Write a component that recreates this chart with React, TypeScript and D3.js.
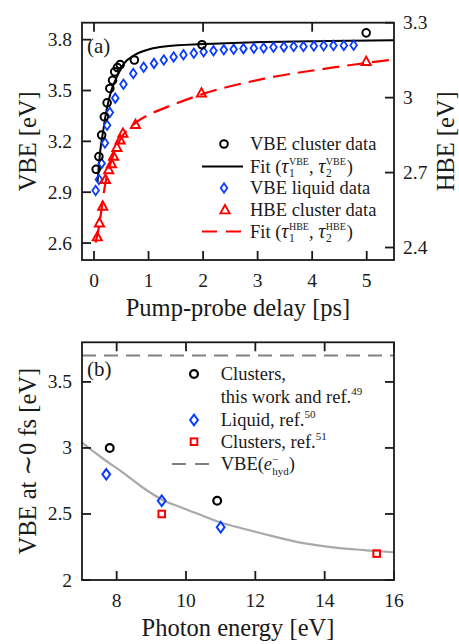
import React from 'react';
import * as d3 from 'd3';

// ---------- Panel (a) data ----------
const clusterT = [0.04, 0.09, 0.14, 0.19, 0.24, 0.29, 0.34, 0.38, 0.43, 0.48, 0.74, 1.98, 4.99];
const clusterVBE = [3.035, 3.11, 3.237, 3.345, 3.427, 3.512, 3.56, 3.61, 3.635, 3.653, 3.68, 3.77, 3.84];

const liquidT = [0.03, 0.09, 0.14, 0.2, 0.24, 0.29, 0.39, 0.54, 0.72, 0.91, 1.1, 1.28, 1.46, 1.64, 1.83, 2.01, 2.19, 2.38, 2.56, 2.74, 2.93, 3.11, 3.29, 3.48, 3.66, 3.84, 4.03, 4.21, 4.39, 4.58, 4.76];
const liquidVBE = [2.91, 2.975, 3.07, 3.19, 3.295, 3.37, 3.455, 3.537, 3.6, 3.637, 3.66, 3.68, 3.698, 3.711, 3.72, 3.728, 3.734, 3.74, 3.743, 3.747, 3.749, 3.751, 3.755, 3.757, 3.759, 3.759, 3.762, 3.764, 3.765, 3.766, 3.767];

const hbeT = [0.06, 0.1, 0.16, 0.21, 0.27, 0.32, 0.36, 0.42, 0.48, 0.53, 0.76, 1.97, 4.99];
const hbeVal = [2.442, 2.498, 2.565, 2.672, 2.711, 2.735, 2.765, 2.8, 2.83, 2.857, 2.892, 3.018, 3.144];

const fitVbeT = [0.065, 0.11, 0.17, 0.23, 0.32, 0.42, 0.54, 0.72, 1.03, 1.33, 2.0, 3.1, 4.3, 5.5];
const fitVbeV = [2.96, 3.13, 3.266, 3.384, 3.502, 3.58, 3.655, 3.705, 3.745, 3.761, 3.774, 3.786, 3.792, 3.797];

const fitHbeT = [0.03, 0.08, 0.13, 0.18, 0.23, 0.3, 0.4, 0.5, 0.66, 0.8, 1.09, 1.43, 2.0, 3.1, 4.3, 5.5];
const fitHbeV = [2.42, 2.47, 2.54, 2.62, 2.68, 2.735, 2.795, 2.84, 2.88, 2.905, 2.94, 2.97, 3.015, 3.075, 3.118, 3.153];

const xTicksA = [0, 1, 2, 3, 4, 5];
const xTopTicksA = [0, 2, 4];
const yLeftTicksA = [2.6, 2.9, 3.2, 3.5, 3.8];
const yRightTicksA = [2.4, 2.7, 3, 3.3];

// ---------- Panel (b) data ----------
const clusterE = [7.8, 10.9];
const clusterV0 = [3.0, 2.6];
const liquidE = [7.7, 9.3, 11.0];
const liquidV0 = [2.8, 2.6, 2.4];
const ref51E = [9.3, 15.5];
const ref51V = [2.5, 2.2];
const curveE = [7.0, 7.6, 8.2, 8.7, 9.3, 9.9, 10.5, 11.0, 11.6, 12.3, 13.3, 14.3, 15.2, 16.0];
const curveV = [3.04, 2.92, 2.81, 2.71, 2.61, 2.545, 2.485, 2.435, 2.392, 2.345, 2.283, 2.245, 2.225, 2.21];
const hydVBE = 3.7;

const xTicksB = [8, 10, 12, 14, 16];
const yTicksB = [2, 2.5, 3, 3.5];

const FONT = "'Liberation Serif', 'DejaVu Serif', serif";
const INK = '#1a1a1a';
const BLUE = '#0a3cff';
const RED = '#ff0000';

// layout
const A = { left: 82, right: 394, top: 22.7, bottom: 260 };
const B = { left: 82, right: 394, top: 342.3, bottom: 580 };

const xA = d3.scaleLinear().domain([-0.22, 5.5]).range([A.left, A.right]);
const yL = d3.scaleLinear().domain([2.5, 3.9]).range([A.bottom, A.top]);
const yR = d3.scaleLinear().domain([2.35, 3.3]).range([A.bottom, A.top]);
const xB = d3.scaleLinear().domain([7, 16]).range([B.left, B.right]);
const yB = d3.scaleLinear().domain([2, 3.8]).range([B.bottom, B.top]);

const TICK = 9;

const Circle = ({ x, y, r = 3.8, sw = 2 }: any) => (
  <circle cx={x} cy={y} r={r} fill="none" stroke="#000" strokeWidth={sw} />
);
const Diamond = ({ x, y, w = 3.3, h = 4.7, sw = 1.8 }: any) => (
  <path d={`M${x},${y - h}L${x + w},${y}L${x},${y + h}L${x - w},${y}Z`} fill="none" stroke={BLUE} strokeWidth={sw} />
);
const Tri = ({ x, y }: any) => (
  <path d={`M${x},${y - 5}L${x + 4.6},${y + 3.4}L${x - 4.6},${y + 3.4}Z`} fill="none" stroke={RED} strokeWidth={1.9} strokeLinejoin="miter" />
);
const Square = ({ x, y, s = 3.3 }: any) => (
  <rect x={x - s} y={y - s} width={2 * s} height={2 * s} fill="none" stroke={RED} strokeWidth={2} />
);

const FitLabel = ({ x, y, tag }: any) => (
  <text x={x} y={y}>
    Fit (<tspan fontStyle="italic" fontSize={20}>τ</tspan>
    <tspan fontSize={11.5} dx={0.5} dy={4}>1</tspan>
    <tspan fontSize={10} dx={-5.8} dy={-12}>{tag}</tspan>
    <tspan dy={8}>, </tspan>
    <tspan fontStyle="italic" fontSize={20}>τ</tspan>
    <tspan fontSize={11.5} dx={0.5} dy={4}>2</tspan>
    <tspan fontSize={10} dx={-5.8} dy={-12}>{tag}</tspan>
    <tspan dx={1} dy={8}>)</tspan>
  </text>
);

export default function App() {
  const lineA = (xs: number[], ys: number[], ys2: any) =>
    d3.line<number>().x((_, i) => xA(xs[i])).y((_, i) => ys2(ys[i])).curve(d3.curveMonotoneX)(xs as any) || '';
  const vbeFit = lineA(fitVbeT, fitVbeV, yL);
  const hbeFit = lineA(fitHbeT, fitHbeV, yR);
  const curveB =
    d3.line<number>().x((_, i) => xB(curveE[i])).y((_, i) => yB(curveV[i])).curve(d3.curveMonotoneX)(curveE as any) || '';

  const tickFs = 19.5;
  const labFs = 24.5;
  const legFs = 18.5;

  return (
    <svg width={459} height={644} style={{ position: 'absolute', left: 0, top: 0, background: '#fff' }} fontFamily={FONT}>
      <defs>
        <clipPath id="clipA">
          <rect x={A.left} y={A.top} width={A.right - A.left} height={A.bottom - A.top} />
        </clipPath>
        <clipPath id="clipB">
          <rect x={B.left} y={B.top} width={B.right - B.left} height={B.bottom - B.top} />
        </clipPath>
      </defs>

      {/* ================= Panel (a) ================= */}
      <g clipPath="url(#clipA)">
        <path d={hbeFit} fill="none" stroke={RED} strokeWidth={2.2} strokeDasharray="17,8" />
        <path d={vbeFit} fill="none" stroke="#000" strokeWidth={2} />
        {liquidT.map((t, i) => <Diamond key={'ld' + i} x={xA(t)} y={yL(liquidVBE[i])} />)}
        {hbeT.map((t, i) => <Tri key={'ht' + i} x={xA(t)} y={yR(hbeVal[i])} />)}
        {clusterT.map((t, i) => <Circle key={'cc' + i} x={xA(t)} y={yL(clusterVBE[i])} />)}
      </g>
      <rect x={A.left} y={A.top} width={A.right - A.left} height={A.bottom - A.top} fill="none" stroke={INK} strokeWidth={1.8} />
      {xTicksA.map((t) => (
        <g key={'xa' + t}>
          <line x1={xA(t)} x2={xA(t)} y1={A.bottom} y2={A.bottom - TICK} stroke={INK} strokeWidth={1.8} />
          <text x={xA(t)} y={286.7} fontSize={tickFs} textAnchor="middle" fill={INK}>{t}</text>
        </g>
      ))}
      {xTopTicksA.map((t) => (
        <line key={'xta' + t} x1={xA(t)} x2={xA(t)} y1={A.top} y2={A.top + TICK} stroke={INK} strokeWidth={1.8} />
      ))}
      {yLeftTicksA.map((v) => (
        <g key={'yla' + v}>
          <line x1={A.left} x2={A.left + TICK} y1={yL(v)} y2={yL(v)} stroke={INK} strokeWidth={1.8} />
          <text x={72} y={yL(v) + 6.5} fontSize={tickFs} textAnchor="end" fill={INK}>{String(v)}</text>
        </g>
      ))}
      {yRightTicksA.map((v) => (
        <g key={'yra' + v}>
          <line x1={A.right} x2={A.right - TICK} y1={yR(v)} y2={yR(v)} stroke={INK} strokeWidth={1.8} />
          <text x={403} y={yR(v) + 6.5} fontSize={tickFs} textAnchor="start" fill={INK}>{String(v)}</text>
        </g>
      ))}
      <text x={87} y={53} fontSize={21} fill={INK}>(a)</text>
      <text transform={`translate(35.5,${(A.top + A.bottom) / 2}) rotate(-90)`} fontSize={labFs} textAnchor="middle" fill={INK}>VBE [eV]</text>
      <text transform={`translate(453.5,${(A.top + A.bottom) / 2}) rotate(-90)`} fontSize={labFs} textAnchor="middle" fill={INK}>HBE [eV]</text>
      <text x={(A.left + A.right) / 2} y={316} fontSize={labFs} textAnchor="middle" fill={INK}>Pump-probe delay [ps]</text>

      {/* legend (a) */}
      <g fill={INK} fontSize={legFs}>
        <Circle x={224} y={144} />
        <text x={250} y={150}>VBE cluster data</text>
        <line x1={202} x2={243} y1={166.5} y2={166.5} stroke="#000" strokeWidth={2} />
        <FitLabel x={250} y={172.5} tag="VBE" />
        <Diamond x={224} y={188} />
        <text x={250} y={194}>VBE liquid data</text>
        <Tri x={225} y={210} />
        <text x={250} y={215.5}>HBE cluster data</text>
        <line x1={202} x2={241} y1={231.5} y2={231.5} stroke={RED} strokeWidth={2.2} strokeDasharray="15,9" />
        <FitLabel x={250} y={237.5} tag="HBE" />
      </g>

      {/* ================= Panel (b) ================= */}
      <g clipPath="url(#clipB)">
        <line x1={B.left} x2={B.right} y1={yB(hydVBE)} y2={yB(hydVBE)} stroke="#808080" strokeWidth={2.2} strokeDasharray="14,8" />
        <path d={curveB} fill="none" stroke="#a9a9a9" strokeWidth={2.2} />
        {clusterE.map((e, i) => <Circle key={'bc' + i} x={xB(e)} y={yB(clusterV0[i])} r={3.9} sw={2.2} />)}
        {liquidE.map((e, i) => <Diamond key={'bd' + i} x={xB(e)} y={yB(liquidV0[i])} w={3.9} h={5.3} sw={2} />)}
        {ref51E.map((e, i) => <Square key={'bs' + i} x={xB(e)} y={yB(ref51V[i])} />)}
      </g>
      <rect x={B.left} y={B.top} width={B.right - B.left} height={B.bottom - B.top} fill="none" stroke={INK} strokeWidth={1.8} />
      {xTicksB.map((t) => (
        <g key={'xb' + t}>
          <line x1={xB(t)} x2={xB(t)} y1={B.bottom} y2={B.bottom - TICK} stroke={INK} strokeWidth={1.8} />
          <line x1={xB(t)} x2={xB(t)} y1={B.top} y2={B.top + TICK} stroke={INK} strokeWidth={1.8} />
          <text x={xB(t)} y={606.7} fontSize={tickFs} textAnchor="middle" fill={INK}>{t}</text>
        </g>
      ))}
      {yTicksB.map((v) => (
        <g key={'yb' + v}>
          <line x1={B.left} x2={B.left + TICK} y1={yB(v)} y2={yB(v)} stroke={INK} strokeWidth={1.8} />
          <line x1={B.right} x2={B.right - TICK} y1={yB(v)} y2={yB(v)} stroke={INK} strokeWidth={1.8} />
          <text x={72} y={yB(v) + 6.5} fontSize={tickFs} textAnchor="end" fill={INK}>{String(v)}</text>
        </g>
      ))}
      <text x={87} y={376} fontSize={21} fill={INK}>(b)</text>
      <text transform={`translate(35.5,${(B.top + B.bottom) / 2}) rotate(-90)`} fontSize={labFs} textAnchor="middle" fill={INK}>VBE at ∼0 fs [eV]</text>
      <text x={(B.left + B.right) / 2} y={636} fontSize={labFs} textAnchor="middle" fill={INK}>Photon energy [eV]</text>

      {/* legend (b) */}
      <g fill={INK} fontSize={legFs}>
        <Circle x={194} y={374} r={3.9} sw={2.2} />
        <text x={220.7} y={379.5}>Clusters,</text>
        <text x={220.7} y={403}>
          this work and ref.<tspan fontSize={11} dy={-8}>49</tspan>
        </text>
        <Diamond x={194} y={420} w={3.9} h={5.3} sw={2} />
        <text x={220.7} y={425.5}>
          Liquid, ref.<tspan fontSize={11} dy={-8}>50</tspan>
        </text>
        <Square x={194} y={441.7} />
        <text x={220.7} y={448}>
          Clusters, ref.<tspan fontSize={11} dy={-8}>51</tspan>
        </text>
        <line x1={172} x2={209} y1={464} y2={464} stroke="#808080" strokeWidth={2.2} strokeDasharray="14,9" />
        <text x={220.7} y={469.5}>
          VBE(<tspan fontStyle="italic">e</tspan>
          <tspan fontSize={11} dy={-7}>−</tspan>
          <tspan fontSize={11} dx={-6} dy={12}>hyd</tspan>
          <tspan dy={-5}>)</tspan>
        </text>
      </g>
    </svg>
  );
}
